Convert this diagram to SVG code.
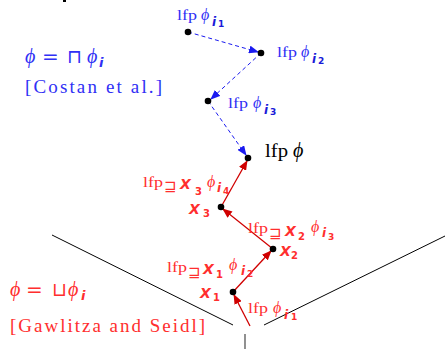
<svg xmlns="http://www.w3.org/2000/svg" width="445" height="349" viewBox="0 0 445 349">
<style>
.b{fill:#3030f5}
.bb{fill:#1a1ad8}
.r{fill:#ff2e2e}
.k{fill:#000}
.sf{font-family:"Liberation Serif","DejaVu Serif",serif}
.it{font-family:"Liberation Serif","DejaVu Serif",serif;font-style:italic}
.ss{font-family:"DejaVu Sans","Liberation Sans",sans-serif;font-style:italic;font-weight:bold}
.sn{font-family:"DejaVu Sans","Liberation Sans",sans-serif;font-weight:bold}
.sym{font-family:"DejaVu Sans",sans-serif}
.dash{stroke:#1a1af0;stroke-width:1;fill:none;stroke-dasharray:4,3}
.sol{stroke:#d00000;stroke-width:1.3;fill:none}
.ln{stroke:#000;stroke-width:1;fill:none}
</style>
<defs>
<marker id="ab" markerWidth="10" markerHeight="8" refX="9" refY="4" orient="auto" markerUnits="userSpaceOnUse"><path d="M0,0 L10,4 L0,8 Z" fill="#1a1af0"/></marker>
<marker id="ar" markerWidth="10" markerHeight="8" refX="9" refY="4" orient="auto" markerUnits="userSpaceOnUse"><path d="M0,0 L10,4 L0,8 Z" fill="#d00000"/></marker>
</defs>
<path d="M63,0 L66,0 L66,2 L63,2 Z" fill="#000"/>
<g id="connectors">
<line class="ln" x1="52" y1="235" x2="233" y2="325"/>
<line class="ln" x1="264" y1="325" x2="445" y2="236"/>
<line x1="245" y1="334" x2="245" y2="349" stroke="#555" stroke-width="1.3"/>
<line class="dash" x1="188" y1="32" x2="258" y2="52" marker-end="url(#ab)"/>
<line class="dash" x1="261" y1="53" x2="211" y2="99" marker-end="url(#ab)"/>
<line class="dash" x1="208" y1="101" x2="246" y2="155" marker-end="url(#ab)"/>
<line class="sol" x1="250" y1="326" x2="234" y2="295" marker-end="url(#ar)"/>
<line class="sol" x1="233" y1="292" x2="271" y2="251" marker-end="url(#ar)"/>
<line class="sol" x1="273" y1="249" x2="223" y2="209" marker-end="url(#ar)"/>
<line class="sol" x1="221" y1="207" x2="247" y2="161" marker-end="url(#ar)"/>
</g>
<g id="n-i1"><circle cx="188" cy="32" r="3.3"/>
<text x="177" y="20" class="b sf" font-size="15" textLength="20" lengthAdjust="spacingAndGlyphs">lfp</text>
<text x="201" y="20" class="b it" font-size="16">ϕ</text>
<text x="212" y="26" class="bb ss" font-size="12">i</text>
<text x="218" y="27" class="bb sn" font-size="9">1</text></g>
<g id="n-i2"><circle cx="261" cy="53" r="3.3"/>
<text x="277" y="57" class="b sf" font-size="15" textLength="20" lengthAdjust="spacingAndGlyphs">lfp</text>
<text x="301" y="57" class="b it" font-size="16">ϕ</text>
<text x="312" y="63" class="bb ss" font-size="12">i</text>
<text x="318" y="64" class="bb sn" font-size="9">2</text></g>
<g id="n-i3"><circle cx="208" cy="101" r="3.3"/>
<text x="228" y="108" class="b sf" font-size="15" textLength="20" lengthAdjust="spacingAndGlyphs">lfp</text>
<text x="253" y="108" class="b it" font-size="16">ϕ</text>
<text x="264" y="114" class="bb ss" font-size="12">i</text>
<text x="270" y="115" class="bb sn" font-size="9">3</text></g>
<g id="n-phi"><circle cx="248" cy="158" r="3.3"/>
<text x="265" y="157" class="k sf" font-size="19" textLength="23" lengthAdjust="spacingAndGlyphs">lfp</text>
<text x="293" y="157" class="k it" font-size="20">ϕ</text></g>
<g id="n-x3"><circle cx="221" cy="207" r="3.3"/>
<text x="143" y="187" class="r sf" font-size="15" textLength="20" lengthAdjust="spacingAndGlyphs">lfp</text>
<text x="164" y="191" class="r sym" font-size="15">⊒</text>
<text x="180" y="189" class="r ss" font-size="14">X</text>
<text x="195" y="195" class="r sn" font-size="10">3</text>
<text x="207" y="187" class="r it" font-size="16">ϕ</text>
<text x="217" y="192" class="r ss" font-size="12">i</text>
<text x="223" y="194" class="r sn" font-size="9">4</text>
<text x="189" y="214" class="r ss" font-size="14">X</text>
<text x="203" y="217" class="r sn" font-size="10">3</text></g>
<g id="n-x2"><circle cx="273" cy="249" r="3.3"/>
<text x="248" y="233" class="r sf" font-size="15" textLength="20" lengthAdjust="spacingAndGlyphs">lfp</text>
<text x="269" y="238" class="r sym" font-size="15">⊒</text>
<text x="285" y="236" class="r ss" font-size="14">X</text>
<text x="298" y="240" class="r sn" font-size="10">2</text>
<text x="311" y="232" class="r it" font-size="16">ϕ</text>
<text x="322" y="237" class="r ss" font-size="12">i</text>
<text x="328" y="240" class="r sn" font-size="9">3</text>
<text x="280" y="256" class="r ss" font-size="14">X</text>
<text x="291" y="259" class="r sn" font-size="10">2</text></g>
<g id="n-x1"><circle cx="233" cy="292" r="3.3"/>
<text x="167" y="272" class="r sf" font-size="15" textLength="20" lengthAdjust="spacingAndGlyphs">lfp</text>
<text x="188" y="277" class="r sym" font-size="15">⊒</text>
<text x="203" y="274" class="r ss" font-size="14">X</text>
<text x="216" y="278" class="r sn" font-size="10">1</text>
<text x="229" y="270" class="r it" font-size="16">ϕ</text>
<text x="241" y="275" class="r ss" font-size="12">i</text>
<text x="247" y="277" class="r sn" font-size="9">2</text>
<text x="200" y="298" class="r ss" font-size="14">X</text>
<text x="213" y="301" class="r sn" font-size="10">1</text></g>
<g id="n-bottom">
<text x="248" y="313" class="r sf" font-size="15" textLength="20" lengthAdjust="spacingAndGlyphs">lfp</text>
<text x="273" y="313" class="r it" font-size="16">ϕ</text>
<text x="284" y="319" class="r ss" font-size="12">i</text>
<text x="291" y="320" class="r sn" font-size="9">1</text></g>
<g id="costan">
<text x="25" y="63" class="b it" font-size="20">ϕ</text>
<text x="42" y="63" class="b sym" font-size="20">=</text>
<text x="67" y="63" class="b sym" font-size="19">⊓</text>
<text x="87" y="63" class="b it" font-size="20">ϕ</text>
<text x="99" y="67" class="b ss" font-size="13">i</text>
<text x="25" y="93" class="b sf" font-size="19" textLength="137" lengthAdjust="spacing">[Costan et al.]</text></g>
<g id="gawlitza">
<text x="10" y="296" class="r it" font-size="20">ϕ</text>
<text x="26" y="296" class="r sym" font-size="20">=</text>
<text x="52" y="296" class="r sym" font-size="19">⊔</text>
<text x="68" y="296" class="r it" font-size="20">ϕ</text>
<text x="81" y="300" class="r ss" font-size="13">i</text>
<text x="10" y="332" class="r sf" font-size="19" textLength="195" lengthAdjust="spacing">[Gawlitza and Seidl]</text></g>
</svg>
